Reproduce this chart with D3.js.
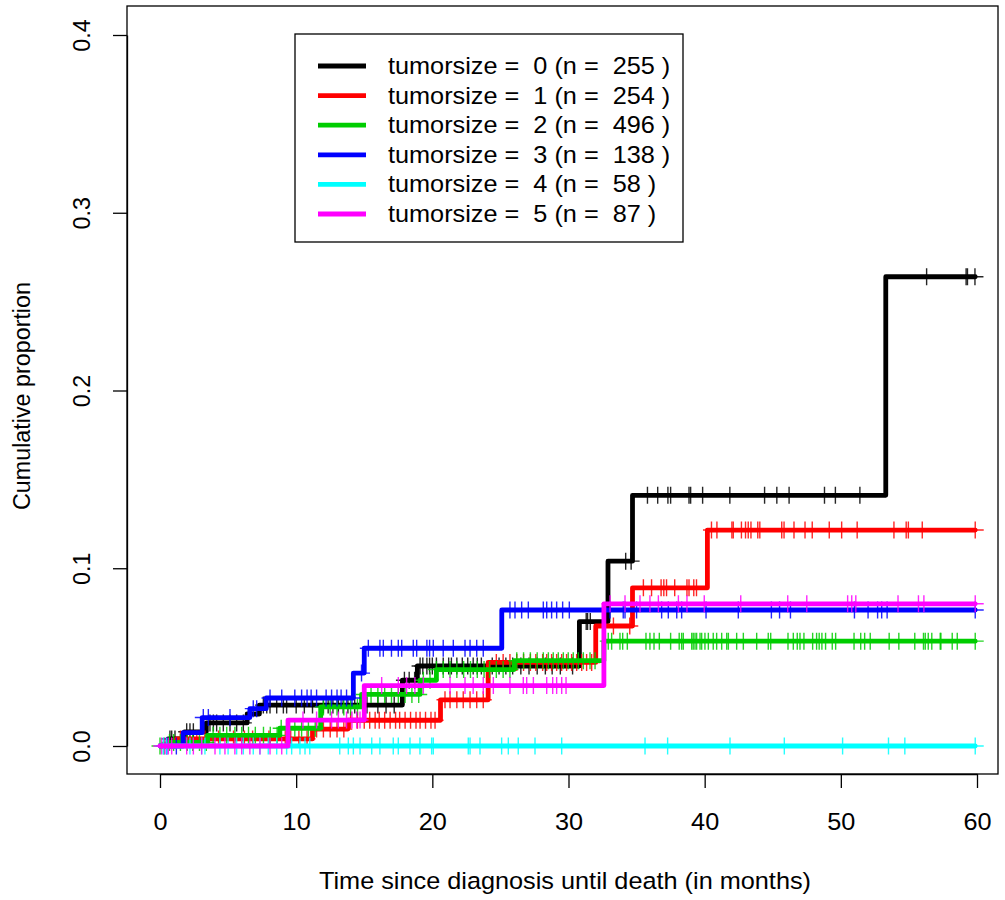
<!DOCTYPE html>
<html><head><meta charset="utf-8">
<script src="https://cdn.jsdelivr.net/npm/d3@7"></script>
<style>body{margin:0;background:#fff}svg{display:block}text{font-family:"Liberation Sans",Arial,sans-serif;fill:#000}</style>
</head><body>
<script>
// ---- data ----
const groups = ["0","1","2","3","4","5"];
const groupN = [255, 254, 496, 138, 58, 87];
const colors = ["#000000","#ff0000","#00cd00","#0000ff","#00ffff","#ff00ff"];
const endTime = 59.87;

// step functions: times of jumps and cumulative proportion after each jump
const t0 = [0, 0.6, 1.8, 3.4, 6.4, 7.3, 17.8, 18.9, 30.8, 32.9, 34.7, 53.3];
const v0 = [0, 0.004, 0.008, 0.013, 0.018, 0.023, 0.037, 0.045, 0.070, 0.104, 0.141, 0.264];
const t1 = [0, 1.2, 11.2, 13.8, 20.6, 24.1, 32.0, 34.7, 40.2];
const v1 = [0, 0.004, 0.0095, 0.0145, 0.026, 0.047, 0.0675, 0.089, 0.1215];
const t2 = [0, 0.6, 3.5, 8.8, 11.8, 14.8, 19.1, 20.3, 26.0, 32.6];
const v2 = [0, 0.002, 0.006, 0.010, 0.022, 0.029, 0.037, 0.043, 0.048, 0.059];
const t3 = [0, 1.7, 3.1, 6.6, 7.8, 14.2, 15.0, 25.1];
const v3 = [0, 0.0075, 0.016, 0.021, 0.027, 0.041, 0.055, 0.0765];
const t4 = [0];
const v4 = [0];
const t5 = [0, 9.4, 15.0, 32.6];
const v5 = [0, 0.0146, 0.034, 0.080];

// censoring times (marks)
const c0 = [0.73,0.86,1.1,1.96,2.2,2.45,3.67,3.92,4.16,4.65,5.14,5.63,6.12,7.59,7.84,8.08,8.57,9.06,9.3,10.0,10.6,11.2,12.0,12.35,12.7,13.1,13.45,13.8,14.3,15.2,16.0,16.6,17.2,17.95,18.3,18.7,19.1,19.3,19.6,19.8,20.0,20.3,20.8,21.2,21.4,21.8,22.2,22.6,23.0,23.3,23.6,24.4,24.9,25.4,25.9,26.5,27.1,27.7,28.3,28.8,29.4,30.3,31.3,31.4,31.6,34.2,34.6,35.8,36.55,37.3,37.5,38.85,38.97,39.85,41.85,44.4,45.3,46.2,48.8,49.6,51.4,56.3,59.2,59.3,59.85];
const c1 = [1.5,2.0,2.7,3.3,4.3,5.4,6.2,6.8,8.0,9.2,9.6,10.2,10.8,11.5,12.0,12.5,13.0,13.5,14.0,14.5,15.0,15.4,15.8,16.1,16.5,16.9,17.3,17.6,18.0,18.4,18.8,19.1,19.5,19.9,20.2,20.93,21.3,21.8,22.27,22.77,23.26,23.74,24.7,25.2,25.7,26.2,26.7,27.2,27.6,28.1,28.4,28.76,29.13,29.5,29.86,30.23,30.6,30.97,31.33,31.7,33.3,34.5,35.5,36.1,36.8,37.0,37.2,37.8,38.7,38.85,39.2,39.4,40.5,40.9,42.0,42.1,42.7,43.0,43.2,43.4,43.9,44.05,45.66,45.83,46.56,47.37,47.9,49.15,50.06,51.2,53.9,54.8,54.96,55.98,59.87];
const c2 = [0.0,0.3,0.7,1.0,1.5,2.0,2.4,2.9,3.4,3.9,4.4,4.9,5.5,6.0,6.5,7.0,7.6,8.1,8.6,8.9,9.4,9.9,10.4,10.9,11.4,12.0,12.5,13.0,13.5,14.0,14.5,15.0,15.5,16.0,16.5,17.0,17.5,18.0,18.5,19.0,19.34,19.83,20.3,20.8,21.3,21.8,22.3,22.8,23.3,23.8,24.2,24.7,25.2,25.7,26.2,26.7,27.2,27.7,28.15,28.52,28.88,29.25,29.62,29.98,30.35,30.72,31.09,31.58,31.95,32.92,33.17,33.78,33.98,34.32,35.69,35.98,36.28,36.67,37.5,38.13,38.31,38.43,39.05,39.16,39.29,39.41,39.66,39.78,40.02,40.27,40.63,40.88,41.25,41.62,41.74,42.35,42.84,43.82,44.67,44.85,46.12,46.51,46.8,47.0,47.29,47.93,48.22,48.41,48.61,48.88,49.37,49.62,50.97,51.46,51.75,52.16,53.55,54.26,55.43,56.07,56.2,56.42,56.68,57.3,57.35,58.18,58.55,59.87];
const c3 = [0.5,1.2,3.18,3.55,5.14,6.85,7.1,8.08,8.94,9.9,10.4,10.8,11.1,11.5,12.2,12.6,13.0,13.3,13.7,14.1,14.8,15.3,16.15,16.4,17.0,17.5,17.75,18.6,18.85,19.6,19.8,20.07,20.8,21.54,22.4,22.77,23.26,23.74,25.7,26.07,26.56,27.05,28.15,28.4,28.76,29.13,29.57,30.06,33.05,34.02,34.15,35.0,36.84,37.33,37.95,38.31,40.1,42.47,44.9,45.5,46.3,51.0,52.0,52.7,53.0,53.4,59.87];
const c4 = [0.24,0.49,2.2,3.06,3.3,4.4,5.0,5.63,6.12,6.85,7.34,7.95,8.57,9.3,9.67,10.28,10.65,11.0,13.2,13.83,14.2,14.69,15.55,16.15,17.13,17.5,18.36,19.09,19.95,20.07,22.64,22.77,23.5,25.09,25.58,26.31,27.54,29.5,35.62,37.28,41.86,45.85,50.13,53.5,54.7,59.87];
const c5 = [0.12,0.37,0.61,0.86,1.96,2.45,3.06,4.04,4.77,5.5,6.0,6.6,7.34,8.08,8.94,10.5,11.5,12.6,13.1,13.7,14.1,14.45,14.69,16.28,17.5,18.11,18.72,19.34,21.3,22.4,23.0,23.74,24.48,25.7,26.68,26.93,27.42,28.4,28.84,29.13,29.5,29.82,33.05,34.15,35.25,35.98,36.6,38.07,38.7,39.97,42.65,46.1,47.5,50.5,50.8,51.1,54.2,55.7,56.1,59.87];

const xTicks = [0,10,20,30,40,50,60];
const yTicks = [0.0,0.1,0.2,0.3,0.4];
const xTitle = "Time since diagnosis until death (in months)";
const yTitle = "Cumulative proportion";

const stepT = [t0,t1,t2,t3,t4,t5];
const stepV = [v0,v1,v2,v3,v4,v5];
const cens = [c0,c1,c2,c3,c4,c5];

// ---- drawing ----
const W = 1005, H = 900;
const svg = d3.select("body").append("svg").attr("width", W).attr("height", H);
svg.append("rect").attr("width", W).attr("height", H).attr("fill", "#fff");

const x = d3.scaleLinear().domain([0, 60]).range([160, 977]);
const y = d3.scaleLinear().domain([0, 0.4]).range([746, 35]);
const box = {l: 127, r: 998, t: 6, b: 774};
const FS = 23.3, SX = 1.085, LW = 4.8;

const plot = svg.append("g");
const line = d3.line().x(d => x(d[0])).y(d => y(d[1])).curve(d3.curveStepAfter);

groups.forEach((g, i) => {
  const T = stepT[i], V = stepV[i];
  const pts = T.map((t, k) => [t, V[k]]);
  pts.push([endTime, V[V.length - 1]]);
  plot.append("path").attr("d", line(pts)).attr("fill", "none")
    .attr("stroke", colors[i]).attr("stroke-width", LW)
    .attr("stroke-linejoin", "round").attr("stroke-linecap", "round");
  const valAt = t => V[Math.max(0, d3.bisectRight(T, t) - 1)];
  plot.append("g").selectAll("path").data(cens[i]).join("path")
    .attr("d", t => {
      const px = x(t), py = y(valAt(t));
      return `M${px - 8.5},${py}H${px + 8.5}M${px},${py - 8.5}V${py + 8.5}`;
    })
    .attr("stroke", colors[i]).attr("stroke-width", 1.4).attr("stroke-opacity", 0.85).attr("fill", "none");
});

// box
svg.append("rect").attr("x", box.l).attr("y", box.t)
  .attr("width", box.r - box.l).attr("height", box.b - box.t)
  .attr("fill", "none").attr("stroke", "#000").attr("stroke-width", 1.3);

// x axis
const xa = svg.append("g").attr("transform", `translate(0,${box.b})`)
  .call(d3.axisBottom(x).tickValues(xTicks).tickSize(14).tickSizeOuter(0).tickFormat(d3.format("d")));
xa.select(".domain").attr("stroke", "#000").attr("stroke-width", 1.3);
xa.selectAll(".tick line").attr("stroke", "#000").attr("stroke-width", 1.3);
xa.selectAll(".tick text").attr("y", 0).attr("dy", 0).style("font-size", FS + "px")
  .attr("font-family", null)
  .attr("transform", `translate(0,56) scale(${SX},1)`);

// y axis
const ya = svg.append("g").attr("transform", `translate(${box.l},0)`)
  .call(d3.axisLeft(y).tickValues(yTicks).tickSize(14).tickSizeOuter(0).tickFormat(d3.format(".1f")));
ya.select(".domain").attr("stroke", "#000").attr("stroke-width", 1.3);
ya.selectAll(".tick line").attr("stroke", "#000").attr("stroke-width", 1.3);
ya.selectAll(".tick text").attr("x", 0).attr("dy", 0).attr("text-anchor", "middle")
  .style("font-size", FS + "px").attr("font-family", null)
  .attr("transform", "translate(-37,0) rotate(-90)");

// titles
svg.append("text").attr("transform", `translate(565,889) scale(${SX},1)`)
  .attr("text-anchor", "middle").style("font-size", FS + "px").text(xTitle);
svg.append("text").attr("transform", "translate(30,396) rotate(-90)")
  .attr("text-anchor", "middle").style("font-size", FS + "px").text(yTitle);

// legend
const lg = svg.append("g");
lg.append("rect").attr("x", 295).attr("y", 34).attr("width", 388).attr("height", 208)
  .attr("fill", "#fff").attr("stroke", "#000").attr("stroke-width", 1.3);
groups.forEach((g, i) => {
  const ry = 66 + i * 29.6;
  lg.append("line").attr("x1", 318).attr("x2", 366).attr("y1", ry).attr("y2", ry)
    .attr("stroke", colors[i]).attr("stroke-width", LW);
  lg.append("text").attr("transform", `translate(388,${ry + 8}) scale(${SX},1)`)
    .style("font-size", FS + "px").style("white-space", "pre")
    .attr("xml:space", "preserve")
    .text(`tumorsize =  ${g} (n =  ${groupN[i]} )`);
});
</script>
</body></html>
